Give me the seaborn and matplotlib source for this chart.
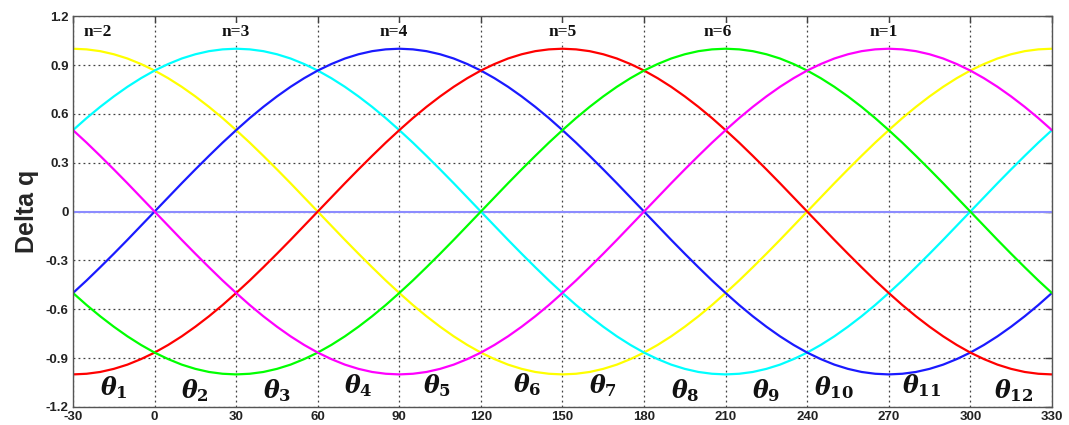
import matplotlib
matplotlib.use("Agg")
import matplotlib.pyplot as plt
import seaborn as sns

# angle samples (degrees, every 5) and the six sector waveforms
angle = list(range(-30, 331, 5))

yellow = [1.0, 0.996, 0.985, 0.966, 0.94, 0.906, 0.866, 0.819, 0.766, 0.707, 0.643, 0.574,
          0.5, 0.423, 0.342, 0.259, 0.174, 0.087, 0.0,
          -0.087, -0.174, -0.259, -0.342, -0.423, -0.5, -0.574, -0.643, -0.707, -0.766,
          -0.819, -0.866, -0.906, -0.94, -0.966, -0.985, -0.996, -1.0,
          -0.996, -0.985, -0.966, -0.94, -0.906, -0.866, -0.819, -0.766, -0.707, -0.643,
          -0.574, -0.5, -0.423, -0.342, -0.259, -0.174, -0.087, 0.0,
          0.087, 0.174, 0.259, 0.342, 0.423, 0.5, 0.574, 0.643, 0.707, 0.766, 0.819,
          0.866, 0.906, 0.94, 0.966, 0.985, 0.996, 1.0]
red = [-1.0, -0.996, -0.985, -0.966, -0.94, -0.906, -0.866, -0.819, -0.766, -0.707, -0.643,
       -0.574, -0.5, -0.423, -0.342, -0.259, -0.174, -0.087, 0.0,
       0.087, 0.174, 0.259, 0.342, 0.423, 0.5, 0.574, 0.643, 0.707, 0.766, 0.819, 0.866,
       0.906, 0.94, 0.966, 0.985, 0.996, 1.0,
       0.996, 0.985, 0.966, 0.94, 0.906, 0.866, 0.819, 0.766, 0.707, 0.643, 0.574, 0.5,
       0.423, 0.342, 0.259, 0.174, 0.087, 0.0,
       -0.087, -0.174, -0.259, -0.342, -0.423, -0.5, -0.574, -0.643, -0.707, -0.766,
       -0.819, -0.866, -0.906, -0.94, -0.966, -0.985, -0.996, -1.0]
cyan = [0.5, 0.574, 0.643, 0.707, 0.766, 0.819, 0.866, 0.906, 0.94, 0.966, 0.985, 0.996,
        1.0,
        0.996, 0.985, 0.966, 0.94, 0.906, 0.866, 0.819, 0.766, 0.707, 0.643, 0.574, 0.5,
        0.423, 0.342, 0.259, 0.174, 0.087, 0.0,
        -0.087, -0.174, -0.259, -0.342, -0.423, -0.5, -0.574, -0.643, -0.707, -0.766,
        -0.819, -0.866, -0.906, -0.94, -0.966, -0.985, -0.996, -1.0,
        -0.996, -0.985, -0.966, -0.94, -0.906, -0.866, -0.819, -0.766, -0.707, -0.643,
        -0.574, -0.5, -0.423, -0.342, -0.259, -0.174, -0.087, 0.0,
        0.087, 0.174, 0.259, 0.342, 0.423, 0.5]
green = [-0.5, -0.574, -0.643, -0.707, -0.766, -0.819, -0.866, -0.906, -0.94, -0.966,
         -0.985, -0.996, -1.0,
         -0.996, -0.985, -0.966, -0.94, -0.906, -0.866, -0.819, -0.766, -0.707, -0.643,
         -0.574, -0.5, -0.423, -0.342, -0.259, -0.174, -0.087, 0.0,
         0.087, 0.174, 0.259, 0.342, 0.423, 0.5, 0.574, 0.643, 0.707, 0.766, 0.819, 0.866,
         0.906, 0.94, 0.966, 0.985, 0.996, 1.0,
         0.996, 0.985, 0.966, 0.94, 0.906, 0.866, 0.819, 0.766, 0.707, 0.643, 0.574, 0.5,
         0.423, 0.342, 0.259, 0.174, 0.087, 0.0,
         -0.087, -0.174, -0.259, -0.342, -0.423, -0.5]
blue = [-0.5, -0.423, -0.342, -0.259, -0.174, -0.087, 0.0,
        0.087, 0.174, 0.259, 0.342, 0.423, 0.5, 0.574, 0.643, 0.707, 0.766, 0.819, 0.866,
        0.906, 0.94, 0.966, 0.985, 0.996, 1.0,
        0.996, 0.985, 0.966, 0.94, 0.906, 0.866, 0.819, 0.766, 0.707, 0.643, 0.574, 0.5,
        0.423, 0.342, 0.259, 0.174, 0.087, 0.0,
        -0.087, -0.174, -0.259, -0.342, -0.423, -0.5, -0.574, -0.643, -0.707, -0.766,
        -0.819, -0.866, -0.906, -0.94, -0.966, -0.985, -0.996, -1.0,
        -0.996, -0.985, -0.966, -0.94, -0.906, -0.866, -0.819, -0.766, -0.707, -0.643,
        -0.574, -0.5]
magenta = [0.5, 0.423, 0.342, 0.259, 0.174, 0.087, 0.0,
           -0.087, -0.174, -0.259, -0.342, -0.423, -0.5, -0.574, -0.643, -0.707, -0.766,
           -0.819, -0.866, -0.906, -0.94, -0.966, -0.985, -0.996, -1.0,
           -0.996, -0.985, -0.966, -0.94, -0.906, -0.866, -0.819, -0.766, -0.707, -0.643,
           -0.574, -0.5, -0.423, -0.342, -0.259, -0.174, -0.087, 0.0,
           0.087, 0.174, 0.259, 0.342, 0.423, 0.5, 0.574, 0.643, 0.707, 0.766, 0.819,
           0.866, 0.906, 0.94, 0.966, 0.985, 0.996, 1.0,
           0.996, 0.985, 0.966, 0.94, 0.906, 0.866, 0.819, 0.766, 0.707, 0.643, 0.574, 0.5]

zero_x = [-30, 330]
zero_y = [0, 0]

# sector labels
n_labels = ["n=2", "n=3", "n=4", "n=5", "n=6", "n=1"]
n_x = [-21, 30, 88, 150, 207, 268]
n_y = [1.1, 1.1, 1.1, 1.1, 1.1, 1.1]

theta_labels = [str(i) for i in range(1, 13)]
theta_x = [-15, 15, 45, 75, 104, 137, 165, 195, 225, 250, 282, 316]
theta_y = [-1.08, -1.1, -1.1, -1.07, -1.07, -1.06, -1.07, -1.1, -1.1, -1.08, -1.07, -1.1]

x_ticks = list(range(-30, 331, 30))
y_ticks = [-1.2, -0.9, -0.6, -0.3, 0, 0.3, 0.6, 0.9, 1.2]
y_ticklabels = ["-1.2", "-0.9", "-0.6", "-0.3", "0", "0.3", "0.6", "0.9", "1.2"]

series = [
    (yellow, "#ffff00"),
    (cyan, "#00ffff"),
    (blue, "#1a1aff"),
    (red, "#ff0000"),
    (green, "#00ff00"),
    (magenta, "#ff00ff"),
]

sns.set_style("white")
plt.rcParams["mathtext.fontset"] = "dejavuserif"

fig = plt.figure(figsize=(10.69, 4.25), dpi=100)
ax = fig.add_axes([0.0683, 0.0424, 0.9157, 0.9196])

sns.lineplot(x=zero_x, y=zero_y, color="#8c8cff", linewidth=1.5, ax=ax)
for vals, col in series:
    sns.lineplot(x=angle, y=vals, color=col, linewidth=1.6, ax=ax)

ax.set_xlim(-30, 330)
ax.set_ylim(-1.2, 1.2)
ax.set_xticks(x_ticks)
ax.set_xticklabels([str(t) for t in x_ticks], fontsize=9.5, fontweight="bold",
                   family="Liberation Sans", color="#222222")
ax.set_yticks(y_ticks)
ax.set_yticklabels(y_ticklabels, fontsize=9.5, fontweight="bold",
                   family="Liberation Sans", color="#222222")
ax.tick_params(direction="in", length=5, width=1, color="#404040",
               top=True, right=True, pad=3)
ax.grid(True, linestyle=(0, (1.5, 2.5)), color="#404040", linewidth=0.9)
ax.set_axisbelow(True)
for sp in ax.spines.values():
    sp.set_color("#555555")
    sp.set_linewidth(1.0)

ax.set_ylabel("Delta q", fontsize=18, fontweight="bold", family="Liberation Sans",
              labelpad=5)

for lab, x, y in zip(n_labels, n_x, n_y):
    ax.text(x, y, lab, ha="center", va="center", fontsize=12.5, fontweight="bold",
            family="Liberation Serif", color="#111111",
            bbox=dict(facecolor="white", edgecolor="none", pad=1))

for lab, x, y in zip(theta_labels, theta_x, theta_y):
    ax.text(x, y, r"$\boldsymbol{\theta}_{\mathbf{" + lab + "}}$", ha="center",
            va="center", fontsize=17, color="#111111")

fig.savefig("out.png", dpi=100)
